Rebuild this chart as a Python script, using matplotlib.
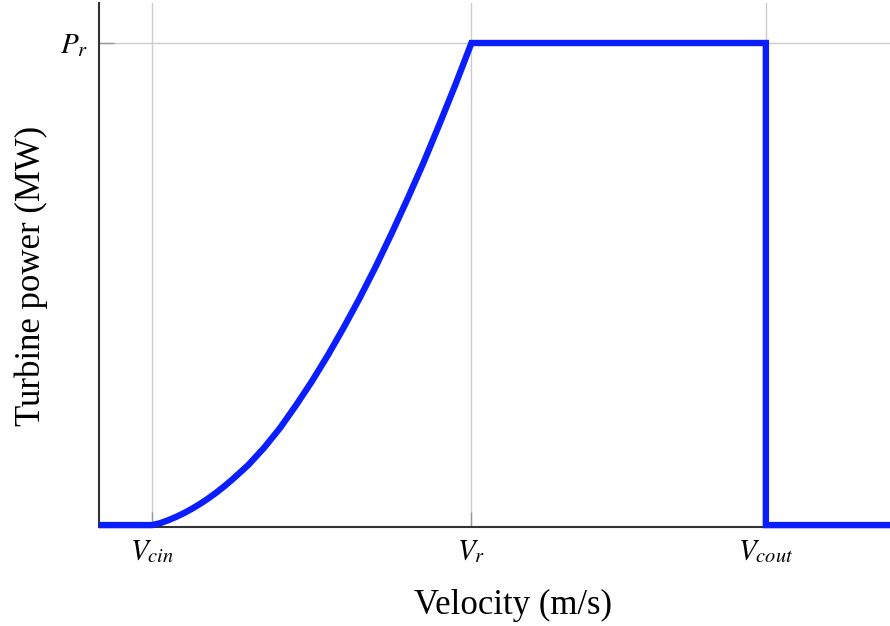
import matplotlib
matplotlib.use("Agg")
import matplotlib.pyplot as plt

# Characteristic speeds (m/s) and rated power (normalised)
v_cin = 3.0
v_r = 12.0
v_cout = 20.3
p_rated = 1.0
x_min, x_max = 1.5, 23.8

# Power curve (between cut-in and rated speed)
curve_v = [3.0, 3.225, 3.45, 3.675, 3.9, 4.125, 4.35, 4.575, 4.8, 5.025, 5.25,
           5.7, 6.15, 6.6, 7.05, 7.5, 7.95, 8.4, 8.85, 9.3, 9.75,
           10.2, 10.65, 11.1, 11.55, 12.0]
curve_p = [0.0, 0.004, 0.010, 0.017, 0.025, 0.034, 0.044, 0.055, 0.067, 0.080, 0.094,
           0.124, 0.160, 0.201, 0.248, 0.298, 0.352, 0.410, 0.471, 0.536, 0.605,
           0.677, 0.752, 0.832, 0.914, 1.0]

tick_pos = [v_cin, v_r, v_cout]
tick_labels = [r"$V_{cin}$", r"$V_r$", r"$V_{cout}$"]
ytick_labels = [r"$P_r$"]

plt.rcParams["font.family"] = ["Liberation Serif", "DejaVu Serif"]
plt.rcParams["mathtext.fontset"] = "stix"

v = [x_min] + curve_v + [v_cout, v_cout, x_max]
p = [0.0] + curve_p + [p_rated, 0.0, 0.0]

fig = plt.figure(figsize=(8.9, 6.26), dpi=100)
ax = fig.add_axes([99/890, (626-527)/626, 1 - 99/890, (527-3)/626])
ax.plot(v, p, color="#0a1eff", lw=4.6, solid_joinstyle="miter",
        solid_capstyle="butt", zorder=3, clip_on=False)

ax.set_xlim(x_min, x_max)
ax.set_ylim(-0.004, 1.083)
ax.set_xticks(tick_pos)
ax.set_xticklabels(tick_labels, fontsize=21)
ax.set_yticks([p_rated])
ax.set_yticklabels(ytick_labels, fontsize=21)
ax.tick_params(direction="in", length=11, width=1, color="#999999", pad=8)
ax.grid(True, color="#cccccc", lw=1)
ax.set_axisbelow(True)
for s in ["top", "right"]:
    ax.spines[s].set_visible(False)
for s in ["left", "bottom"]:
    ax.spines[s].set_color("#333333")
    ax.spines[s].set_linewidth(1.5)

ax.set_xlabel("Velocity (m/s)", fontsize=25)
ax.set_ylabel("Turbine power (MW)", fontsize=25)
ax.xaxis.set_label_coords(0.523, -0.119)
ax.yaxis.set_label_coords(-0.064, 0.479)

fig.savefig("out.png", dpi=100)
